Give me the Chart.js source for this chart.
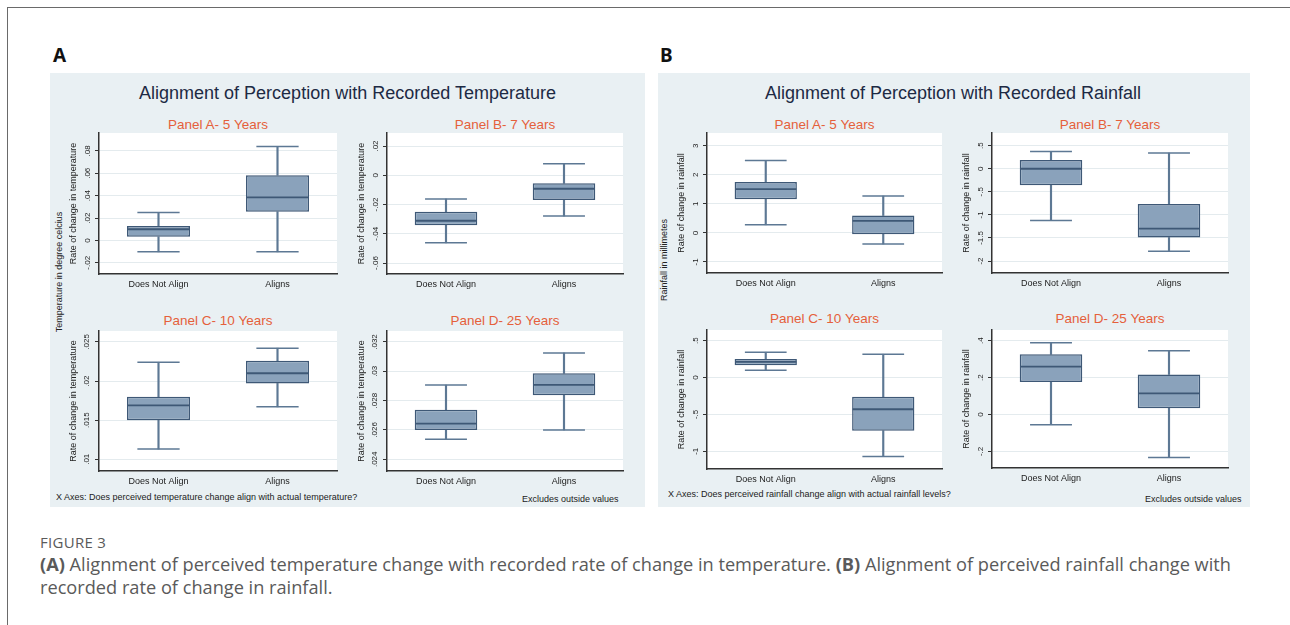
<!DOCTYPE html>
<html><head><meta charset="utf-8">
<script src="https://cdn.jsdelivr.net/npm/chart.js@4.4.1/dist/chart.umd.min.js"></script>
<style>
html,body{margin:0;padding:0}
body{width:1290px;height:625px;background:#fff;position:relative;overflow:hidden;font-family:"Liberation Sans",Arial,sans-serif}
.frame{position:absolute;left:7px;top:7px;width:1400px;height:800px;border:1px solid #6a6a6a;box-sizing:border-box}
.panel{position:absolute;background:#e9f0f3}
.lbl{position:absolute;font-family:"Noto Sans",sans-serif;font-weight:700;font-size:19px;color:#111;line-height:20px}
.main{position:absolute;font-size:18px;color:#1d2a44;text-align:center;line-height:20px;white-space:nowrap}
.sub{position:absolute;font-size:13.5px;color:#e5603b;text-align:center;line-height:16px;white-space:nowrap}
.rot{position:absolute;font-size:9px;color:#222;white-space:nowrap;text-align:center;width:200px;line-height:10px;transform:rotate(-90deg);transform-origin:50% 50%}
.note{position:absolute;font-size:9px;color:#222;white-space:nowrap;line-height:10px}
.cv{position:absolute}
.fig{position:absolute;left:40px;font-family:"Open Sans",Lato,sans-serif;color:#5a5a5a;white-space:nowrap}
</style>
</head><body>
<div class="frame"></div>
<div class="lbl" style="left:53px;top:45px">A</div>
<div class="lbl" style="left:660px;top:45px">B</div>
<div class="panel" style="left:50px;top:73px;width:595px;height:434px"></div>
<div class="panel" style="left:658px;top:73px;width:592px;height:434px"></div>
<div class="main" style="left:50px;top:83px;width:595px">Alignment of Perception with Recorded Temperature</div>
<div class="main" style="left:658px;top:83px;width:590px">Alignment of Perception with Recorded Rainfall</div>
<div class="rot" style="left:-41px;top:267px">Temperature in degree celcius</div>
<div class="rot" style="left:564px;top:255px">Rainfall in millimetes</div>
<div class="note" style="left:56px;top:492px">X Axes: Does perceived temperature change align with actual temperature?</div>
<div class="note" style="left:522px;top:494px">Excludes outside values</div>
<div class="note" style="left:668px;top:489px">X Axes: Does perceived rainfall change align with actual rainfall levels?</div>
<div class="note" style="left:1145px;top:494px">Excludes outside values</div>
<div class="fig" style="top:533px;font-size:15px;line-height:18px;letter-spacing:0.3px">FIGURE 3</div>
<div class="fig" style="top:553px;font-size:18.2px;line-height:23px"><b style="font-weight:700">(A)</b> Alignment of perceived temperature change with recorded rate of change in temperature. <b style="font-weight:700">(B)</b> Alignment of perceived rainfall change with<br>recorded rate of change in rainfall.</div>
<div id="charts"></div>
<script>
// ---- data ----
const categories = ['Does Not Align', 'Aligns'];
// each box: [lower whisker, Q1, median, Q3, upper whisker]
const temp5yr  = [[-0.0102, 0.0032, 0.0100, 0.0128, 0.0250], [-0.0102, 0.0256, 0.0384, 0.0583, 0.0840]];
const temp7yr  = [[-0.0462, -0.0342, -0.0311, -0.0249, -0.0162], [-0.0279, -0.0169, -0.0092, -0.0055, 0.0079]];
const temp10yr = [[0.0113, 0.0150, 0.0169, 0.0180, 0.0224], [0.0167, 0.0197, 0.0210, 0.0226, 0.0242]];
const temp25yr = [[0.02537, 0.02600, 0.02643, 0.02738, 0.02906], [0.02600, 0.02837, 0.02908, 0.02986, 0.03125]];
const rain5yr  = [[0.28, 1.16, 1.51, 1.75, 2.49], [-0.38, -0.045, 0.415, 0.60, 1.27]];
const rain7yr  = [[-1.12, -0.36, 0.0, 0.19, 0.375], [-1.79, -1.49, -1.30, -0.766, 0.34]];
const rain10yr = [[0.10, 0.167, 0.212, 0.253, 0.343], [-1.07, -0.72, -0.43, -0.26, 0.316]];
const rain25yr = [[-0.055, 0.176, 0.26, 0.326, 0.389], [-0.233, 0.034, 0.115, 0.217, 0.345]];
// y tick values
const temp5Ticks  = [-0.02, 0, 0.02, 0.04, 0.06, 0.08];
const temp7Ticks  = [-0.06, -0.04, -0.02, 0, 0.02];
const temp10Ticks = [0.01, 0.015, 0.02, 0.025];
const temp25Ticks = [0.024, 0.026, 0.028, 0.03, 0.032];
const rain5Ticks  = [-1, 0, 1, 2, 3];
const rain7Ticks  = [-2, -1.5, -1, -0.5, 0, 0.5];
const rain10Ticks = [-1, -0.5, 0, 0.5];
const rain25Ticks = [-0.2, 0, 0.2, 0.4];
// y axis ranges [min, max]
const temp5Range  = [-0.030, 0.096];
const temp7Range  = [-0.0675, 0.0289];
const temp10Range = [0.0085, 0.0264];
const temp25Range = [0.0232, 0.03275];
const rain5Range  = [-1.38, 3.44];
const rain7Range  = [-2.26, 0.775];
const rain10Range = [-1.24, 0.645];
const rain25Range = [-0.29, 0.458];
const subTitles = ['Panel A- 5 Years', 'Panel B- 7 Years', 'Panel C- 10 Years', 'Panel D- 25 Years'];
const tempYTitle = 'Rate of change in temperature';
const rainYTitle = 'Rate of change in rainfall';

// ---- layout / style ----
const FILL = '#8aa2bb', EDGE = '#3e5876', WHISK = '#5d7894';
const BOXPCT = 0.53, CAPPCT = 0.67;
const specs = [
  {box: temp5yr,  ticks: temp5Ticks,  range: temp5Range,  title: subTitles[0], yt: tempYTitle, ax: 99,  right: 337,  top: 133, bottom: 274, tc: 125, pad: 0.5},
  {box: temp7yr,  ticks: temp7Ticks,  range: temp7Range,  title: subTitles[1], yt: tempYTitle, ax: 387, right: 623,  top: 133, bottom: 274, tc: 125, pad: 0.5},
  {box: temp10yr, ticks: temp10Ticks, range: temp10Range, title: subTitles[2], yt: tempYTitle, ax: 99,  right: 337,  top: 331, bottom: 471, tc: 321, pad: 0},
  {box: temp25yr, ticks: temp25Ticks, range: temp25Range, title: subTitles[3], yt: tempYTitle, ax: 387, right: 623,  top: 331, bottom: 471, tc: 321, pad: 0},
  {box: rain5yr,  ticks: rain5Ticks,  range: rain5Range,  title: subTitles[0], yt: rainYTitle, ax: 707, right: 942,  top: 133, bottom: 273, tc: 125, pad: 4},
  {box: rain7yr,  ticks: rain7Ticks,  range: rain7Range,  title: subTitles[1], yt: rainYTitle, ax: 992, right: 1228, top: 133, bottom: 273, tc: 125, pad: 0.5},
  {box: rain10yr, ticks: rain10Ticks, range: rain10Range, title: subTitles[2], yt: rainYTitle, ax: 707, right: 942,  top: 330, bottom: 469, tc: 319, pad: 3},
  {box: rain25yr, ticks: rain25Ticks, range: rain25Range, title: subTitles[3], yt: rainYTitle, ax: 992, right: 1228, top: 330, bottom: 468, tc: 319, pad: 3}
];

const fmt = v => {
  if (Math.abs(v) < 1e-12) return '0';
  let s = String(+v.toPrecision(6));
  return s.replace(/^(-?)0\./, '$1.');
};

const plotBg = {
  id: 'plotBg',
  beforeDraw(c) {
    const a = c.chartArea, ctx = c.ctx;
    ctx.save(); ctx.fillStyle = '#ffffff';
    ctx.fillRect(a.left, a.top, a.right - a.left, a.bottom - a.top);
    ctx.restore();
  }
};

const YW = 34, XH = 24, TOPH = 4;
Chart.defaults.font.family = '"Liberation Sans", Arial, sans-serif';
// half the category width from the library's x scale
const halfCat = c => (c.chart.scales.x ? c.chart.scales.x.width : 236) / categories.length / 2;

specs.forEach((s, i) => {
  const left = s.ax - YW, top = s.top - TOPH;
  const w = s.right + 3 - left, h = s.bottom + XH - top;
  const holder = document.getElementById('charts');
  const t = document.createElement('div');
  t.className = 'sub'; t.textContent = s.title;
  t.style.left = s.ax + 'px'; t.style.width = (s.right - s.ax) + 'px'; t.style.top = (s.tc - 8) + 'px';
  holder.appendChild(t);
  const div = document.createElement('div');
  div.className = 'cv';
  div.style.left = left + 'px'; div.style.top = top + 'px';
  div.style.width = w + 'px'; div.style.height = h + 'px';
  const cv = document.createElement('canvas');
  cv.width = w; cv.height = h; cv.style.width = w + 'px'; cv.style.height = h + 'px';
  div.appendChild(cv);
  holder.appendChild(div);

  const caps = [], medians = [];
  s.box.forEach((b, k) => {
    caps.push({x: categories[k], y: b[4]}); caps.push({x: categories[k], y: b[0]});
    medians.push({x: categories[k], y: b[2]});
  });

  new Chart(cv, {
    data: {
      labels: categories,
      datasets: [
        {type: 'line', data: medians, showLine: false, pointStyle: 'line', clip: false,
         pointRadius: c => halfCat(c) * BOXPCT - 0.5, pointHoverRadius: c => halfCat(c) * BOXPCT - 0.5,
         borderColor: EDGE, pointBorderColor: EDGE, pointBorderWidth: 1.8},
        {type: 'bar', data: s.box.map(b => [b[1], b[3]]), backgroundColor: FILL, borderColor: EDGE, borderWidth: 1.5,
         borderSkipped: false, grouped: false, barPercentage: BOXPCT, categoryPercentage: 1},
        {type: 'bar', data: s.box.map(b => [b[3], b[4]]), backgroundColor: WHISK, borderWidth: 0,
         grouped: false, barThickness: 1.5},
        {type: 'bar', data: s.box.map(b => [b[0], b[1]]), backgroundColor: WHISK, borderWidth: 0,
         grouped: false, barThickness: 1.5},
        {type: 'line', data: caps, showLine: false, pointStyle: 'line', clip: false,
         pointRadius: c => halfCat(c) * BOXPCT * CAPPCT, pointHoverRadius: c => halfCat(c) * BOXPCT * CAPPCT,
         borderColor: WHISK, pointBorderColor: WHISK, pointBorderWidth: 1.5}
      ]
    },
    options: {
      responsive: false, animation: false, devicePixelRatio: 1,
      layout: {autoPadding: false, padding: {left: 0, right: 3, top: TOPH, bottom: 0}},
      plugins: {legend: {display: false}, tooltip: {enabled: false}, title: {display: false}},
      scales: {
        x: {type: 'category', offset: true,
            grid: {display: false, drawTicks: false},
            border: {color: '#333', width: 1.5},
            ticks: {color: '#222', font: {size: 9}, padding: 5, maxRotation: 0, autoSkip: false},
            afterFit: sc => { sc.height = XH; sc.paddingLeft = 0; sc.paddingRight = 0; }},
        y: {type: 'linear', min: s.range[0], max: s.range[1],
            afterBuildTicks: sc => { sc.ticks = s.ticks.map(v => ({value: v})); },
            ticks: {minRotation: 90, maxRotation: 90, crossAlign: 'center', padding: s.pad, color: '#222',
                    font: {size: 8}, callback: v => fmt(v)},
            grid: {color: '#e4ebee', lineWidth: 1, tickLength: 4, tickColor: '#333', tickWidth: 1},
            border: {color: '#333', width: 1.5},
            title: {display: true, text: s.yt, color: '#222', font: {size: 9}, padding: {top: 3, bottom: 0}},
            afterFit: sc => { sc.width = YW; sc.paddingTop = 0; sc.paddingBottom = 0; }}
      }
    },
    plugins: [plotBg]
  });
});
</script>
</body></html>
